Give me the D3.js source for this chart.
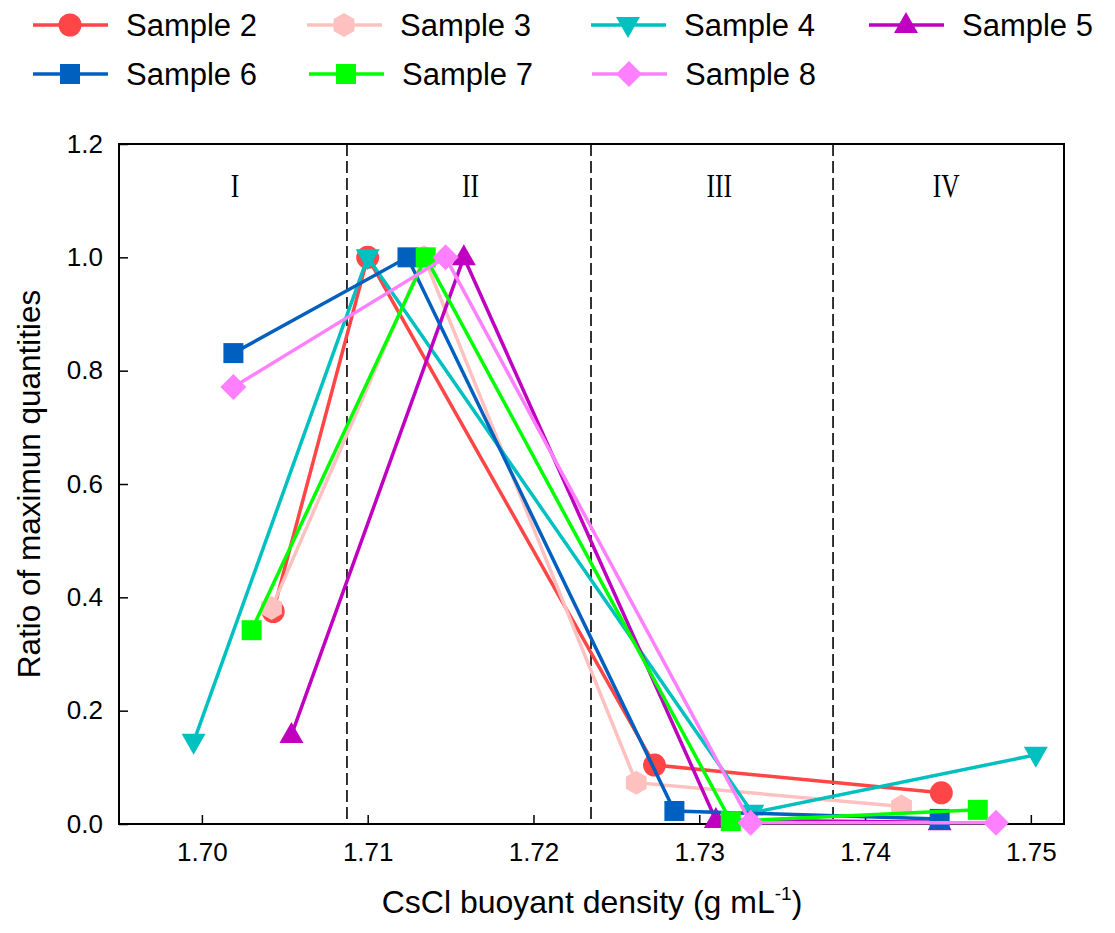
<!DOCTYPE html>
<html>
<head>
<meta charset="utf-8">
<script src="https://cdn.jsdelivr.net/npm/d3@7"></script>
<style>
  body { margin: 0; background: #fff; }
  text { font-family: Arial, "Liberation Sans", sans-serif; }
</style>
</head>
<body>
<svg id="canvas"></svg>
<script>
// sample names, colours, marker shapes
const sampleNames = ["Sample 2", "Sample 3", "Sample 4", "Sample 5", "Sample 6", "Sample 7", "Sample 8"]
const sampleColors = ["#ff4545", "#ffc0c0", "#00c0c0", "#c000c0", "#0060c0", "#00ff00", "#ff80ff"]
const sampleShapes = ["circle", "hexagon", "triDown", "triUp", "square", "square", "diamond"]

// density (g/mL) for each sample
const densS2 = [1.7043, 1.7100, 1.7273, 1.7446]
const densS3 = [1.7042, 1.7134, 1.7262, 1.7422]
const densS4 = [1.6995, 1.7100, 1.7332, 1.7503]
const densS5 = [1.7054, 1.7158, 1.7310, 1.7445]
const densS6 = [1.7019, 1.7124, 1.7285, 1.7445]
const densS7 = [1.7030, 1.7135, 1.7319, 1.7468]
const densS8 = [1.7019, 1.7147, 1.7331, 1.7479]

// ratio of maximum quantities
const ratioS2 = [0.375, 1.0, 0.104, 0.055]
const ratioS3 = [0.381, 1.0, 0.073, 0.031]
const ratioS4 = [0.145, 1.0, 0.020, 0.122]
const ratioS5 = [0.157, 1.0, 0.007, 0.003]
const ratioS6 = [0.831, 1.0, 0.023, 0.009]
const ratioS7 = [0.342, 1.0, 0.005, 0.025]
const ratioS8 = [0.771, 1.0, 0.002, 0.002]

const densAll = [densS2, densS3, densS4, densS5, densS6, densS7, densS8]
const ratioAll = [ratioS2, ratioS3, ratioS4, ratioS5, ratioS6, ratioS7, ratioS8]

const xTicks = [1.70, 1.71, 1.72, 1.73, 1.74, 1.75]
const yTicks = [0, 0.2, 0.4, 0.6, 0.8, 1.0, 1.2]
const regionBounds = [1.70875, 1.72347, 1.73807]
const regionLabels = ["I", "II", "III", "IV"]
const regionCenters = [1.7020, 1.7162, 1.7312, 1.7449]

const width = 1115, height = 933
const mLeft = 119, mRight = 1064, mTop = 144, mBottom = 824

const svg = d3.select("#canvas").attr("width", width).attr("height", height)

const x = d3.scaleLinear().domain([1.695, 1.752]).range([mLeft, mRight])
const y = d3.scaleLinear().domain([0, 1.2]).range([mBottom, mTop])

// marker paths
function markerPath(shape) {
    if (shape === "circle") return d3.symbol(d3.symbolCircle, Math.PI * 11.5 * 11.5)()
    if (shape === "square") return d3.symbol(d3.symbolSquare, 20 * 20)()
    if (shape === "diamond") {
        let r = 13
        return `M0,${-r}L${r},0L0,${r}L${-r},0Z`
    }
    if (shape === "hexagon") {
        let r = 12, pts = []
        for (let i = 0; i < 6; i++) {
            let a = Math.PI / 2 + i * Math.PI / 3
            pts.push([r * Math.cos(a), r * Math.sin(a)])
        }
        return "M" + pts.map(p => p.join(",")).join("L") + "Z"
    }
    if (shape === "triUp") return "M0,-13L12,8L-12,8Z"
    if (shape === "triDown") return "M0,13L12,-8L-12,-8Z"
}

// region dividers
svg.append("g").selectAll("line")
    .data(regionBounds).enter().append("line")
    .attr("x1", d => x(d)).attr("x2", d => x(d))
    .attr("y1", mTop).attr("y2", mBottom)
    .attr("stroke", "#000").attr("stroke-width", 1.6)
    .attr("stroke-dasharray", "12,5")

svg.append("g").selectAll("text")
    .data(regionLabels).enter().append("text")
    .attr("x", (d, i) => x(regionCenters[i]))
    .attr("y", 197)
    .attr("text-anchor", "middle")
    .style("font-family", "'Liberation Serif', 'Times New Roman', serif")
    .style("font-size", "34px")
    .attr("transform", (d, i) => {
        let cx = x(regionCenters[i])
        return `translate(${cx},0) scale(0.75,1) translate(${-cx},0)`
    })
    .text(d => d)

// axes
const xAxis = d3.axisBottom(x).tickValues(xTicks).tickFormat(d3.format(".2f"))
    .tickSizeInner(-9).tickSizeOuter(0).tickPadding(19)
const yAxis = d3.axisLeft(y).tickValues(yTicks).tickFormat(d3.format(".1f"))
    .tickSizeInner(-9).tickSizeOuter(0).tickPadding(16)

const gx = svg.append("g").attr("transform", `translate(0,${mBottom})`).call(xAxis)
const gy = svg.append("g").attr("transform", `translate(${mLeft},0)`).call(yAxis)
;[gx, gy].forEach(g => {
    g.select(".domain").remove()
    g.selectAll(".tick line").attr("stroke", "#000").attr("stroke-width", 1.5)
    g.selectAll(".tick text").style("font-size", "26px")
        .style("font-family", "Arial, 'Liberation Sans', sans-serif").attr("fill", "#000")
})

// frame
svg.append("rect")
    .attr("x", mLeft).attr("y", mTop)
    .attr("width", mRight - mLeft).attr("height", mBottom - mTop)
    .attr("fill", "none").attr("stroke", "#000").attr("stroke-width", 2)

// series
const line = d3.line().x(d => x(d[0])).y(d => y(d[1]))
sampleNames.forEach((name, i) => {
    let pts = densAll[i].map((d, j) => [d, ratioAll[i][j]])
    let g = svg.append("g").attr("class", "series")
    g.append("path")
        .attr("d", line(pts))
        .attr("fill", "none")
        .attr("stroke", sampleColors[i])
        .attr("stroke-width", 3.5)
    g.selectAll(".marker").data(pts).enter().append("path")
        .attr("class", "marker")
        .attr("transform", d => `translate(${x(d[0])},${y(d[1])})`)
        .attr("d", markerPath(sampleShapes[i]))
        .attr("fill", sampleColors[i])
})

// axis titles
svg.append("text")
    .attr("transform", "translate(40,484) rotate(-90)")
    .attr("text-anchor", "middle")
    .style("font-size", "31.5px")
    .text("Ratio of maximun quantities")

let xt = svg.append("text")
    .attr("x", 592).attr("y", 913)
    .attr("text-anchor", "middle")
    .style("font-size", "32px")
xt.append("tspan").text("CsCl buoyant density (g mL")
xt.append("tspan").attr("dy", -13).style("font-size", "19px").text("-1")
xt.append("tspan").attr("dy", 13).text(")")

// legend
const legX = [33, 307, 591, 869, 33, 309, 592]
const legY = [25, 25, 25, 25, 74, 74, 74]
sampleNames.forEach((name, i) => {
    let g = svg.append("g").attr("transform", `translate(${legX[i]},${legY[i]})`)
    g.append("line").attr("x1", 0).attr("x2", 75).attr("y1", 0).attr("y2", 0)
        .attr("stroke", sampleColors[i]).attr("stroke-width", 3.5)
    g.append("path").attr("transform", "translate(37,0)")
        .attr("d", markerPath(sampleShapes[i])).attr("fill", sampleColors[i])
    g.append("text").attr("x", 93).attr("y", 0).attr("dy", "0.36em")
        .style("font-size", "31px").text(name)
})
</script>
</body>
</html>
